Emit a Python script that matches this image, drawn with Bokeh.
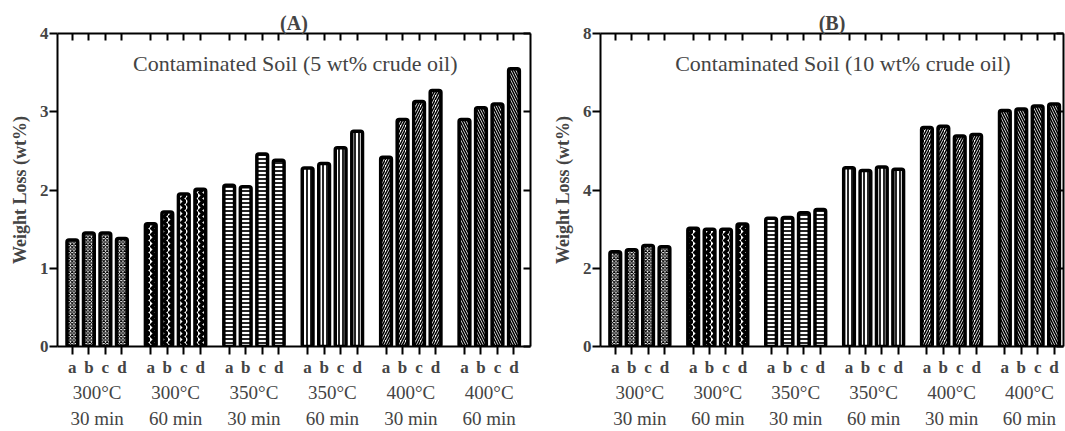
from bokeh.plotting import figure
from bokeh.models import LinearAxis, FixedTicker, Range1d, Label
from bokeh.layouts import row
from bokeh.embed import file_html
from bokeh.resources import INLINE

# ---- data ----
samples = ["a", "b", "c", "d"]
temps = ["300°C", "300°C", "350°C", "350°C", "400°C", "400°C"]
times = ["30 min", "60 min", "30 min", "60 min", "30 min", "60 min"]

loss_5wt = [
    [1.36, 1.45, 1.45, 1.38],
    [1.57, 1.72, 1.95, 2.01],
    [2.06, 2.04, 2.46, 2.38],
    [2.28, 2.34, 2.54, 2.75],
    [2.42, 2.90, 3.13, 3.27],
    [2.90, 3.05, 3.10, 3.55],
]
loss_10wt = [
    [2.42, 2.47, 2.58, 2.55],
    [3.02, 3.00, 3.00, 3.13],
    [3.28, 3.30, 3.42, 3.50],
    [4.57, 4.50, 4.59, 4.53],
    [5.60, 5.63, 5.38, 5.42],
    [6.03, 6.07, 6.15, 6.20],
]

# ---- styling ----
SERIF = "Liberation Serif"
patterns = [
    dict(hatch_pattern="diagonal_cross", hatch_scale=3.5, hatch_weight=1.1),
    dict(hatch_pattern="vertical_wave", hatch_scale=6, hatch_weight=3.5),
    dict(hatch_pattern="horizontal_line", hatch_scale=4, hatch_weight=1.7),
    dict(hatch_pattern="vertical_line", hatch_scale=4, hatch_weight=1.7),
    dict(hatch_pattern="right_diagonal_line", hatch_scale=5, hatch_weight=1.6),
    dict(hatch_pattern="left_diagonal_line", hatch_scale=5, hatch_weight=1.6),
]

STEP = 4          # distance between bars in a group (x units)
GROUP = 19        # distance between groups (x units)


def ticks_only(axis, tick_in):
    axis.major_label_text_font_size = "1px"
    axis.major_label_text_color = None
    axis.major_label_text_alpha = 0
    axis.major_label_standoff = 0
    axis.major_tick_in = tick_in
    axis.major_tick_out = 0
    axis.minor_tick_line_color = None
    axis.axis_line_width = 2
    axis.major_tick_line_width = 2


def make_panel(values, ymax, yticks, title, subtitle, sub_x, sub_y,
               width, border_left, border_right, x_end):
    p = figure(width=width, height=431,
               x_range=Range1d(-3.6, x_end), y_range=Range1d(0, ymax),
               output_backend="svg", toolbar_location=None,
               x_axis_location=None, y_axis_location=None,
               min_border_left=border_left, min_border_right=border_right,
               min_border_top=33, min_border_bottom=84)
    p.xgrid.visible = False
    p.ygrid.visible = False
    p.outline_line_color = None
    p.background_fill_color = "white"
    p.border_fill_color = "white"

    p.title.text = title
    p.title.align = "center"
    p.title.text_font = SERIF
    p.title.text_font_size = "20px"
    p.title.text_font_style = "bold"
    p.title.standoff = 0
    p.title.offset = 0

    bar_x, letters, centers = [], [], []
    for g, vals in enumerate(values):
        xs = [g * GROUP + i * STEP for i in range(len(vals))]
        bar_x += xs
        letters += samples
        centers.append(g * GROUP + (len(vals) - 1) * STEP // 2)
        p.vbar(x=xs, top=vals, width=2.6, bottom=0,
               fill_color="white", line_color="black", line_width=3.5,
               border_radius=2,
               hatch_color="black", **patterns[g])

    # left axis
    left = LinearAxis(ticker=FixedTicker(ticks=yticks),
                      axis_label="Weight Loss (wt%)")
    left.axis_label_text_font = SERIF
    left.axis_label_text_font_size = "18px"
    left.axis_label_text_font_style = "bold"
    left.axis_label_standoff = 7
    left.major_label_text_font = SERIF
    left.major_label_text_font_size = "17px"
    left.major_label_text_font_style = "bold"
    left.major_label_standoff = 1
    left.major_tick_out = 8
    left.major_tick_in = 0
    left.minor_tick_line_color = None
    left.axis_line_width = 2
    left.major_tick_line_width = 2
    p.add_layout(left, "left")

    # right axis (ticks only)
    right = LinearAxis(ticker=FixedTicker(ticks=yticks))
    ticks_only(right, 7)
    p.add_layout(right, "right")

    # top axis (ticks only)
    top = LinearAxis(ticker=FixedTicker(ticks=bar_x))
    ticks_only(top, 7)
    p.add_layout(top, "above")

    # bottom axis: sample letters
    b1 = LinearAxis(ticker=FixedTicker(ticks=bar_x),
                    major_label_overrides={x: l for x, l in zip(bar_x, letters)})
    b1.major_label_text_font = SERIF
    b1.major_label_text_font_size = "17px"
    b1.major_label_text_font_style = "bold"
    b1.major_label_standoff = 3
    b1.major_tick_out = 8
    b1.major_tick_in = 0
    b1.minor_tick_line_color = None
    b1.axis_line_width = 2
    b1.major_tick_line_width = 2
    p.add_layout(b1, "below")

    # bottom axes: temperature and time
    for labels in (temps, times):
        b = LinearAxis(ticker=FixedTicker(ticks=centers),
                       major_label_overrides={c: t for c, t in zip(centers, labels)})
        b.major_label_text_font = SERIF
        b.major_label_text_font_size = "19px"
        b.major_label_standoff = 2
        b.major_tick_out = 0
        b.major_tick_in = 0
        b.major_tick_line_color = None
        b.minor_tick_line_color = None
        b.axis_line_color = None
        p.add_layout(b, "below")

    p.add_layout(Label(x=sub_x, y=sub_y, text=subtitle,
                       text_font=SERIF, text_font_size="22px",
                       text_align="center", text_baseline="middle"))
    return p


pA = make_panel(loss_5wt, 4, [0, 1, 2, 3, 4], "(A)",
                "Contaminated Soil (5 wt% crude oil)", 54, 3.62,
                width=549, border_left=57, border_right=19, x_end=111)
pB = make_panel(loss_10wt, 8, [0, 2, 4, 6, 8], "(B)",
                "Contaminated Soil (10 wt% crude oil)", 55.5, 7.24,
                width=516, border_left=48, border_right=2, x_end=109.3)

layout = row(pA, pB)
open("out.html", "w").write(file_html(layout, INLINE))
